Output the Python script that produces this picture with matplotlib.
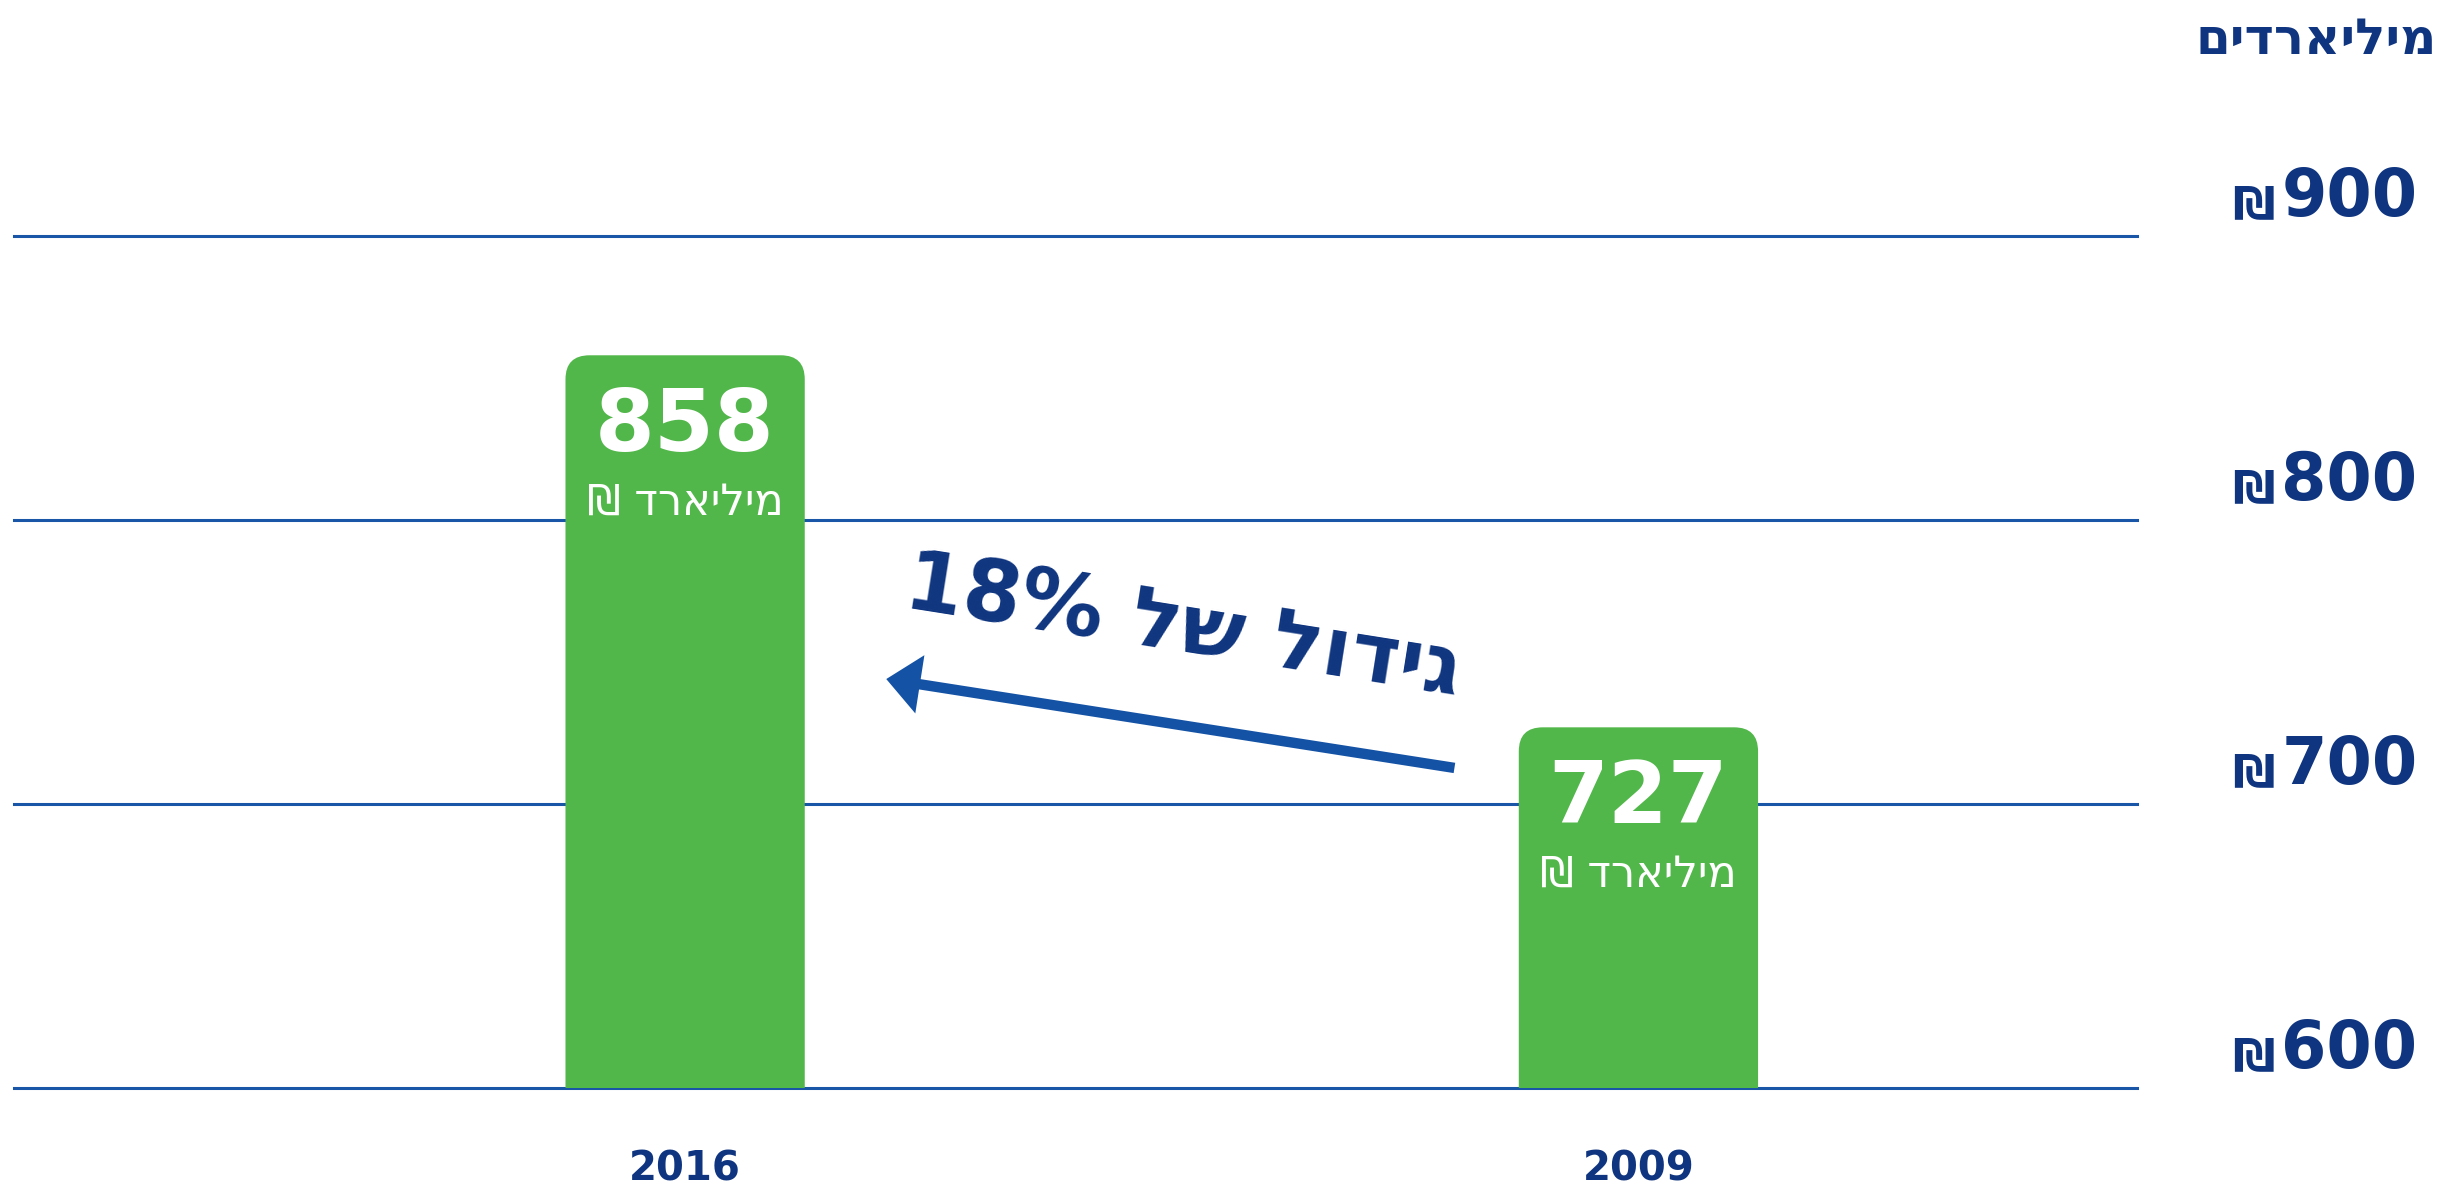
import matplotlib
matplotlib.use("Agg")
import matplotlib.pyplot as plt
from matplotlib.patches import FancyBboxPatch

# ------------------------------------------------------------
# Data (display order: right-to-left chart, 2016 on the left)
# ------------------------------------------------------------
years = ["2016", "2009"]
values = [858, 727]
y_ticks = [600, 700, 800, 900]

unit_title = "מיליארדים"
bar_unit = "מיליארד"
growth_text = "גידול של"
growth_pct = "18%"

# colours
NAVY = "#0f3580"
LINE_BLUE = "#1a56a8"
GREEN = "#52b74a"
ARROW_BLUE = "#1452a5"

plt.rcParams["font.family"] = ["DejaVu Sans"]


def rtl(s):
    # matplotlib has no bidi support: reverse Hebrew runs by hand
    return s[::-1]


# ------------------------------------------------------------
# Figure / axes
# ------------------------------------------------------------
W, H = 2446, 1189
fig = plt.figure(figsize=(W / 100, H / 100), dpi=100)
y_scale = 2.84            # px per data unit
ax_h = 305 * y_scale
ax = fig.add_axes([14 / W, 101 / H, 2123 / W, ax_h / H])

x = list(range(len(years)))
ax.set_xlim(-0.704, 1.523)
ax.set_ylim(600, 905)

for s in ax.spines.values():
    s.set_visible(False)
ax.set_yticks(y_ticks)
ax.set_yticklabels([])
ax.tick_params(axis="y", length=0)
ax.grid(axis="y", color=LINE_BLUE, lw=2.2, zorder=1)
ax.set_axisbelow(True)
for gl in ax.get_ygridlines():
    gl.set_clip_on(False)

ax.set_xticks(x)
ax.set_xticklabels(years, fontsize=29, fontweight="bold", color=NAVY)
ax.tick_params(axis="x", length=0, pad=44)

# ------------------------------------------------------------
# Bars with rounded top corners
# ------------------------------------------------------------
bars = ax.bar(x, [v - 600 for v in values], bottom=600, width=0.251,
              color=GREEN, zorder=2)
x_px = 2123 / 2.227
r = 24 / x_px
for b in bars:
    b.set_visible(False)
    patch = FancyBboxPatch(
        (b.get_x(), b.get_y() - 30), b.get_width(), b.get_height() + 30,
        boxstyle=f"round,pad=0,rounding_size={r}",
        mutation_aspect=(24 / y_scale) / r,
        fc=GREEN, ec="none", zorder=2, clip_on=True,
    )
    ax.add_patch(patch)

for xi, v in zip(x, values):
    ax.annotate(str(v), xy=(xi, v), xytext=(0, -52), textcoords="offset points",
                ha="center", va="center", fontsize=62, fontweight="bold",
                color="white", zorder=3)
    ax.annotate("₪ " + rtl(bar_unit), xy=(xi, v), xytext=(0, -106),
                textcoords="offset points", ha="center", va="center",
                fontsize=31, color="white", zorder=3)

# ------------------------------------------------------------
# Right-hand value labels
# ------------------------------------------------------------
for t in y_ticks:
    ax.annotate(str(t), xy=(1, t), xycoords=("axes fraction", "data"),
                xytext=(104, 27), textcoords="offset points",
                ha="left", va="center", fontsize=47, fontweight="bold",
                color=NAVY, annotation_clip=False)
    ax.annotate("₪", xy=(1, t), xycoords=("axes fraction", "data"),
                xytext=(99, 21), textcoords="offset points",
                ha="right", va="center", fontsize=34, fontweight="bold",
                color=NAVY, annotation_clip=False)

fig.text(2437 / W, 1 - 40 / H, rtl(unit_title), ha="right", va="center",
         fontsize=36, fontweight="bold", color=NAVY)

# ------------------------------------------------------------
# Growth arrow + rotated label
# ------------------------------------------------------------
ax.annotate("", xy=(0.211, 744), xytext=(0.807, 712.7),
            arrowprops=dict(arrowstyle="-|>,head_length=0.75,head_width=0.65",
                            mutation_scale=20, lw=7.5, color=ARROW_BLUE,
                            joinstyle="miter", capstyle="butt",
                            shrinkA=0, shrinkB=0),
            zorder=4)
ax.text(0.522, 762, growth_pct + " " + rtl(growth_text), rotation=-9,
        rotation_mode="anchor", ha="center", va="center", fontsize=60,
        fontweight="bold", color=NAVY, zorder=4)

fig.savefig("out.png", dpi=100)
